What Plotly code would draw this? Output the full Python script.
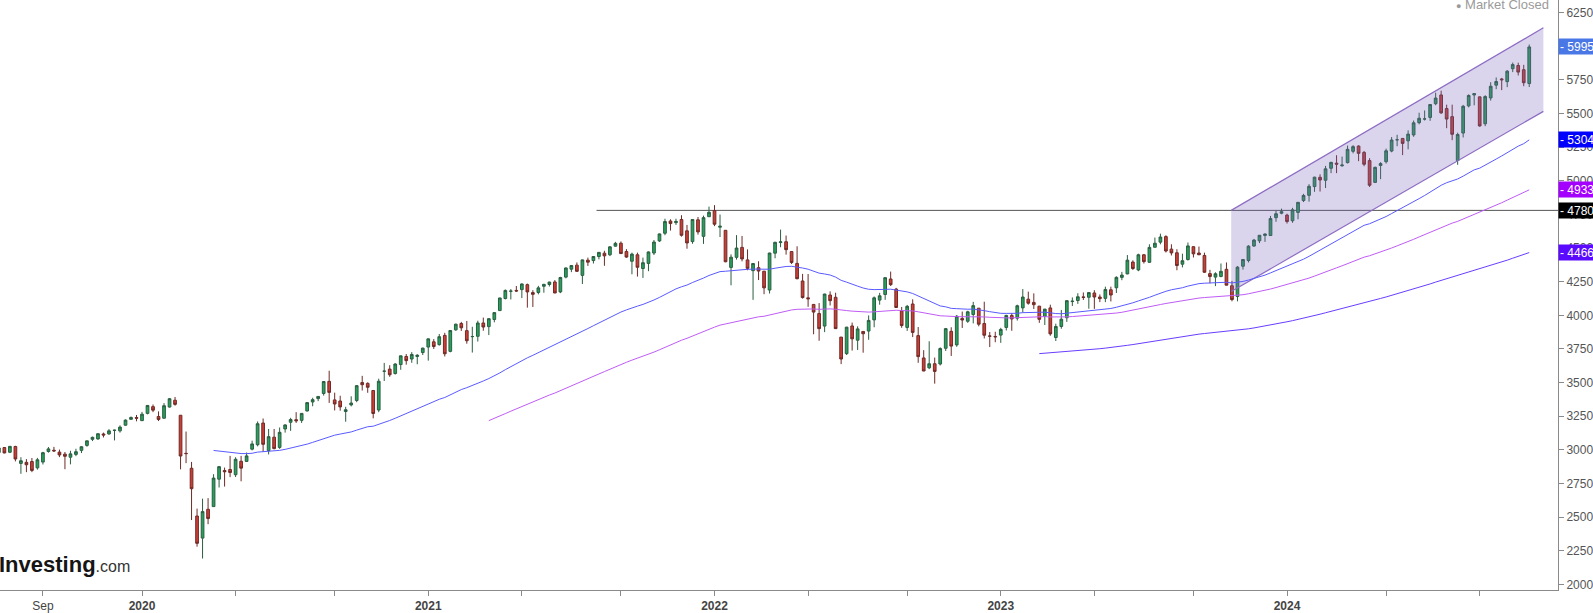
import pandas as pd
import plotly.graph_objects as go

# Weekly S&P 500 bars [open, high, low, close], weeks starting Monday
bars_2019 = [
    [2940, 2954, 2900, 2946], [2909, 2938, 2825, 2881], [2840, 2892, 2801, 2860],
    [2841, 2865, 2805, 2826], [2830, 2841, 2750, 2752], [2751, 2884, 2728, 2873], [2886, 2911, 2860, 2887],
    [2889, 2964, 2881, 2950], [2951, 2957, 2914, 2942], [2972, 2996, 2952, 2990], [2980, 3018, 2961, 3014],
    [3017, 3018, 2974, 2977], [2982, 3028, 2976, 3026], [3025, 3030, 2914, 2932], [2899, 2945, 2822, 2919],
    [2907, 2931, 2834, 2889], [2913, 2939, 2834, 2847], [2866, 2940, 2853, 2926], [2909, 2985, 2891, 2979],
    [2988, 3021, 2979, 3007], [2997, 3022, 2985, 2992], [2983, 3002, 2946, 2962], [2968, 2984, 2856, 2952],
    [2945, 2993, 2892, 2970], [2966, 3008, 2953, 2986], [2996, 3027, 2976, 3023], [3033, 3067, 3023, 3067],
    [3078, 3098, 3065, 3093], [3081, 3121, 3075, 3120], [3118, 3128, 3092, 3110], [3118, 3154, 3113, 3141],
    [3144, 3150, 3070, 3146], [3141, 3182, 3128, 3169], [3183, 3226, 3180, 3221], [3227, 3248, 3223, 3240],
    [3240, 3259, 3212, 3235],
]
bars_2020 = [
    [3217, 3282, 3214, 3265], [3271, 3329, 3264, 3330], [3321, 3337, 3280, 3295], [3248, 3286, 3214, 3226],
    [3235, 3347, 3234, 3328], [3318, 3385, 3315, 3380], [3369, 3393, 3328, 3338], [3257, 3259, 2855, 2954],
    [2974, 3136, 2901, 2972], [2863, 2910, 2478, 2711], [2508, 2563, 2280, 2305], [2344, 2637, 2192, 2541],
    [2558, 2641, 2447, 2489], [2578, 2819, 2577, 2790], [2782, 2880, 2720, 2875], [2846, 2868, 2727, 2837],
    [2854, 2955, 2797, 2831], [2815, 2945, 2798, 2930], [2915, 2955, 2766, 2864], [2914, 2980, 2910, 2955],
    [3005, 3068, 2996, 3044], [3038, 3211, 3026, 3194], [3199, 3233, 2984, 3041], [2994, 3155, 2966, 3098],
    [3094, 3155, 3004, 3009], [3018, 3166, 3007, 3130], [3155, 3190, 3128, 3185], [3205, 3238, 3141, 3225],
    [3224, 3280, 3200, 3216], [3219, 3272, 3200, 3271], [3289, 3352, 3285, 3351], [3356, 3387, 3324, 3373],
    [3381, 3399, 3362, 3397], [3419, 3509, 3403, 3508], [3509, 3588, 3349, 3427], [3371, 3425, 3293, 3341],
    [3363, 3402, 3291, 3319], [3285, 3320, 3209, 3298], [3334, 3398, 3323, 3348], [3367, 3482, 3354, 3477],
    [3500, 3550, 3441, 3484], [3494, 3502, 3424, 3465], [3441, 3441, 3234, 3270], [3296, 3529, 3280, 3510],
    [3584, 3646, 3512, 3585], [3600, 3629, 3543, 3558], [3567, 3644, 3560, 3638], [3634, 3699, 3595, 3699],
    [3694, 3712, 3633, 3663], [3675, 3726, 3647, 3709], [3694, 3711, 3636, 3703], [3723, 3760, 3705, 3756],
]
bars_2021 = [
    [3764, 3827, 3663, 3825], [3803, 3823, 3750, 3768], [3782, 3861, 3775, 3841], [3851, 3870, 3694, 3714],
    [3732, 3887, 3725, 3887], [3892, 3938, 3885, 3934], [3939, 3951, 3884, 3907], [3886, 3958, 3789, 3811],
    [3842, 3915, 3723, 3842], [3844, 3960, 3805, 3943], [3943, 3983, 3885, 3913], [3916, 3978, 3853, 3975],
    [3969, 4018, 3948, 4020], [4035, 4130, 4035, 4129], [4125, 4192, 4118, 4185], [4179, 4195, 4118, 4180],
    [4185, 4218, 4173, 4181], [4191, 4238, 4128, 4233], [4228, 4236, 4057, 4174], [4169, 4187, 4062, 4156],
    [4170, 4219, 4156, 4204], [4216, 4234, 4168, 4230], [4229, 4250, 4214, 4247], [4248, 4262, 4165, 4166],
    [4174, 4286, 4165, 4281], [4284, 4356, 4275, 4352], [4343, 4372, 4321, 4370], [4373, 4393, 4322, 4327],
    [4297, 4415, 4233, 4412], [4410, 4429, 4367, 4395], [4407, 4440, 4385, 4437], [4437, 4470, 4416, 4468],
    [4462, 4480, 4368, 4442], [4450, 4513, 4440, 4509], [4514, 4546, 4511, 4535], [4536, 4549, 4456, 4459],
    [4474, 4492, 4427, 4433], [4402, 4466, 4305, 4455], [4450, 4466, 4288, 4357], [4348, 4429, 4278, 4391],
    [4386, 4475, 4328, 4471], [4463, 4560, 4448, 4545], [4553, 4608, 4546, 4605], [4610, 4718, 4595, 4697],
    [4701, 4714, 4630, 4682], [4689, 4718, 4672, 4698], [4712, 4744, 4585, 4595], [4628, 4672, 4495, 4538],
    [4548, 4713, 4532, 4712], [4710, 4731, 4600, 4620], [4587, 4741, 4531, 4726], [4733, 4808, 4733, 4766],
]
bars_2022 = [
    [4778, 4819, 4663, 4677], [4655, 4749, 4582, 4662], [4632, 4632, 4395, 4398], [4356, 4453, 4223, 4432],
    [4431, 4596, 4414, 4500], [4505, 4590, 4401, 4419], [4412, 4490, 4335, 4349], [4332, 4385, 4115, 4385],
    [4354, 4402, 4262, 4329], [4328, 4330, 4157, 4204], [4188, 4465, 4162, 4463], [4462, 4546, 4424, 4543],
    [4541, 4637, 4506, 4546], [4547, 4593, 4451, 4488], [4474, 4471, 4381, 4393], [4386, 4513, 4268, 4272],
    [4255, 4308, 4124, 4132], [4130, 4307, 4063, 4123], [4081, 4082, 3859, 4024], [4013, 4091, 3811, 3901],
    [3920, 4160, 3875, 4158], [4151, 4178, 4073, 4109], [4134, 4168, 3900, 3901], [3838, 3838, 3637, 3675],
    [3715, 3914, 3705, 3912], [3921, 3946, 3738, 3825], [3815, 3918, 3742, 3899], [3880, 3880, 3722, 3863],
    [3883, 3999, 3818, 3962], [3966, 4140, 3911, 4130], [4113, 4167, 4079, 4145], [4155, 4280, 4115, 4280],
    [4270, 4325, 4218, 4228], [4195, 4204, 4057, 4058], [4034, 4062, 3907, 3924], [3910, 4077, 3884, 4067],
    [4084, 4119, 3838, 3873], [3849, 3913, 3647, 3693], [3683, 3741, 3585, 3586], [3610, 3807, 3600, 3640],
    [3640, 3686, 3492, 3583], [3638, 3762, 3627, 3753], [3755, 3906, 3735, 3901], [3881, 3911, 3698, 3771],
    [3780, 4002, 3766, 3993], [3977, 4028, 3906, 3965], [3956, 4034, 3944, 4026], [4006, 4100, 3940, 4072],
    [4053, 4053, 3918, 3934], [3939, 4101, 3828, 3852], [3846, 3876, 3764, 3845], [3843, 3878, 3800, 3840],
]
bars_2023 = [
    [3853, 3907, 3795, 3895], [3910, 4004, 3887, 3999], [3999, 4015, 3885, 3973], [3979, 4079, 3961, 4071],
    [4055, 4195, 4021, 4136], [4120, 4176, 4079, 4090], [4096, 4163, 4047, 4079], [4068, 4070, 3944, 3970],
    [3992, 4048, 3928, 4046], [4055, 4079, 3848, 3862], [3835, 3938, 3809, 3917], [3917, 4040, 3900, 3971],
    [3982, 4110, 3951, 4109], [4102, 4133, 4069, 4105], [4110, 4164, 4085, 4138], [4137, 4170, 4114, 4133],
    [4134, 4170, 4049, 4169], [4166, 4187, 4048, 4136], [4136, 4155, 4098, 4124], [4126, 4213, 4098, 4192],
    [4190, 4213, 4103, 4151], [4205, 4290, 4166, 4282], [4282, 4323, 4261, 4299], [4308, 4448, 4305, 4410],
    [4396, 4409, 4337, 4348], [4337, 4458, 4328, 4450], [4450, 4456, 4385, 4399], [4394, 4528, 4390, 4505],
    [4506, 4578, 4505, 4536], [4544, 4607, 4528, 4582], [4585, 4595, 4467, 4478], [4492, 4528, 4445, 4464],
    [4465, 4491, 4335, 4370], [4380, 4458, 4356, 4406], [4415, 4541, 4407, 4516], [4510, 4514, 4430, 4457],
    [4463, 4511, 4448, 4450], [4445, 4466, 4316, 4320], [4310, 4338, 4238, 4288], [4284, 4320, 4217, 4309],
    [4289, 4385, 4283, 4327], [4342, 4393, 4223, 4224], [4220, 4256, 4104, 4117], [4140, 4366, 4104, 4358],
    [4365, 4415, 4340, 4415], [4407, 4521, 4393, 4514], [4515, 4568, 4510, 4559], [4554, 4595, 4537, 4595],
    [4594, 4609, 4546, 4604], [4593, 4739, 4592, 4719], [4726, 4778, 4695, 4755], [4759, 4793, 4751, 4770],
]
bars_2024 = [
    [4745, 4755, 4682, 4697], [4703, 4799, 4688, 4784], [4765, 4842, 4714, 4840], [4853, 4903, 4842, 4891],
    [4892, 4975, 4845, 4959], [4957, 5030, 4918, 5027], [5026, 5048, 4920, 5006], [5004, 5111, 4946, 5089],
    [5093, 5141, 5057, 5137], [5131, 5190, 5057, 5124], [5112, 5180, 5104, 5117], [5135, 5262, 5129, 5234],
    [5219, 5265, 5204, 5254], [5258, 5264, 5146, 5204], [5211, 5222, 5108, 5123], [5150, 5168, 4954, 4967],
    [4988, 5105, 4987, 5100], [5114, 5139, 5012, 5128], [5142, 5239, 5128, 5223], [5221, 5325, 5212, 5303],
    [5305, 5342, 5257, 5305], [5315, 5316, 5191, 5278], [5297, 5375, 5234, 5347], [5341, 5448, 5327, 5431],
    [5432, 5506, 5420, 5465], [5459, 5523, 5448, 5460], [5471, 5570, 5446, 5567], [5573, 5655, 5562, 5615],
    [5638, 5670, 5497, 5505], [5537, 5566, 5391, 5459], [5477, 5566, 5302, 5346], [5151, 5358, 5119, 5344],
    [5355, 5564, 5322, 5554], [5557, 5643, 5546, 5634], [5638, 5651, 5561, 5648], [5624, 5626, 5402, 5408],
    [5424, 5636, 5406, 5626], [5616, 5733, 5596, 5703], [5711, 5768, 5681, 5738], [5757, 5765, 5674, 5751],
    [5737, 5823, 5696, 5815], [5833, 5879, 5808, 5864], [5857, 5878, 5783, 5808], [5826, 5862, 5703, 5729],
    [5723, 6013, 5697, 5995],
]
first_week = "2019-04-29"

ma_periods = [50, 100, 200]
ma_colors = ["#5a5aff", "#c05cf5", "#6a3dff"]

channel_dates = ["2023-10-22", "2024-11-22"]
channel_upper = [4780, 6137]
channel_lower = [4177, 5516]

resistance_level = 4780
resistance_start = "2021-08-06"

label_values = [5995, 5304, 4933, 4780, 4466]
label_colors = ["#4a77e6", "#0000ff", "#a300ff", "#000000", "#5a0aff"]

tick_dates = ["2019-09-02", "2020-01-06", "2020-05-04", "2020-09-07", "2021-01-04", "2021-05-03",
              "2021-09-06", "2022-01-03", "2022-05-02", "2022-09-05", "2023-01-02", "2023-05-01",
              "2023-09-04", "2024-01-01", "2024-05-06", "2024-09-02"]
tick_labels = ["Sep", "<b>2020</b>", "", "", "<b>2021</b>", "", "", "<b>2022</b>", "", "",
               "<b>2023</b>", "", "", "<b>2024</b>", "", ""]
y_ticks = [2000, 2250, 2500, 2750, 3000, 3250, 3500, 3750, 4000, 4250, 4500, 4750, 5000,
           5250, 5500, 5750, 6000, 6250]

x_range = ["2019-07-09 10:00", "2024-12-10 14:00"]
y_range = [1958, 6344]

all_bars = bars_2019 + bars_2020 + bars_2021 + bars_2022 + bars_2023 + bars_2024
opens = [b[0] for b in all_bars]
highs = [b[1] for b in all_bars]
lows = [b[2] for b in all_bars]
closes = [b[3] for b in all_bars]
dates = pd.date_range(first_week, periods=len(all_bars), freq="W-MON")


def ema_seeded(values, n):
    """Exponential moving average seeded with the simple average of the first n values."""
    alpha = 2.0 / (n + 1)
    out = [None] * len(values)
    if len(values) < n:
        return out
    e = sum(values[:n]) / n
    out[n - 1] = e
    for i in range(n, len(values)):
        e = alpha * values[i] + (1 - alpha) * e
        out[i] = e
    return out


FONT = "Arial, Liberation Sans, sans-serif"
fig = go.Figure()

# channel fill
fig.add_trace(go.Scatter(
    x=[channel_dates[0], channel_dates[1], channel_dates[1], channel_dates[0], channel_dates[0]],
    y=[channel_upper[0], channel_upper[1], channel_lower[1], channel_lower[0], channel_upper[0]],
    mode="lines", fill="toself", fillcolor="rgba(120,98,186,0.27)",
    line=dict(width=0), hoverinfo="skip", showlegend=False))
for ys in (channel_upper, channel_lower):
    fig.add_trace(go.Scatter(x=channel_dates, y=ys, mode="lines",
                             line=dict(color="#8d6cc4", width=1.2), hoverinfo="skip", showlegend=False))

# moving averages
for p, c in zip(ma_periods, ma_colors):
    ma = ema_seeded(closes, p)
    xs = [d for d, v in zip(dates, ma) if v is not None]
    ys = [v for v in ma if v is not None]
    fig.add_trace(go.Scatter(x=xs, y=ys, mode="lines",
                             line=dict(color=c, width=1), hoverinfo="skip", showlegend=False))

fig.add_trace(go.Candlestick(
    x=dates, open=opens, high=highs, low=lows, close=closes,
    increasing=dict(fillcolor="#26a05c", line=dict(color="#2b5e40", width=1)),
    decreasing=dict(fillcolor="#cc3d35", line=dict(color="#6e2b26", width=1)),
    whiskerwidth=0, hoverinfo="skip", showlegend=False))

fig.add_shape(type="line", xref="x", yref="y", x0=resistance_start, x1=x_range[1],
              y0=resistance_level, y1=resistance_level, line=dict(color="#555555", width=1), layer="below")

for v, c in zip(label_values, label_colors):
    fig.add_annotation(x=1, xref="paper", y=v, yref="y", xanchor="left", yanchor="middle",
                       text="- " + str(v), showarrow=False, bgcolor=c, borderpad=1,
                       font=dict(color="white", size=12, family=FONT), align="left", width=40, height=13)

fig.add_annotation(x=1551 / 1558, xref="paper", y=1, yref="paper", xanchor="right", yanchor="middle",
                   yshift=-4, showarrow=False,
                   text="<span style='font-size:9px'>●</span> Market Closed",
                   font=dict(color="#9a9a9a", size=13, family=FONT))

fig.add_annotation(x=0, xref="paper", y=1 - 567 / 593, yref="paper", xanchor="left", yanchor="middle",
                   xshift=-3, showarrow=False,
                   text="<b>Investing</b><span style='font-size:16px;color:#333'>.com</span>",
                   font=dict(color="#151515", size=22, family=FONT))

fig.update_layout(
    width=1593, height=613, margin=dict(l=0, r=35, t=0, b=20),
    paper_bgcolor="white", plot_bgcolor="white", showlegend=False,
    font=dict(family=FONT, size=12, color="#555555"),
    xaxis=dict(type="date", range=x_range, rangeslider=dict(visible=False), showgrid=False,
               zeroline=False, showline=True, linecolor="#8a8a8a", linewidth=1,
               ticks="outside", ticklen=5, tickcolor="#8a8a8a",
               tickvals=tick_dates, ticktext=tick_labels,
               tickfont=dict(size=12, color="#444444", family=FONT)),
    yaxis=dict(side="right", range=y_range, showgrid=False, zeroline=False, showline=True,
               linecolor="#8a8a8a", linewidth=1, ticks="outside", ticklen=5, tickcolor="#8a8a8a",
               tickvals=y_ticks, tickfont=dict(size=12, color="#555555", family=FONT)),
)

fig.write_html("out.html")
